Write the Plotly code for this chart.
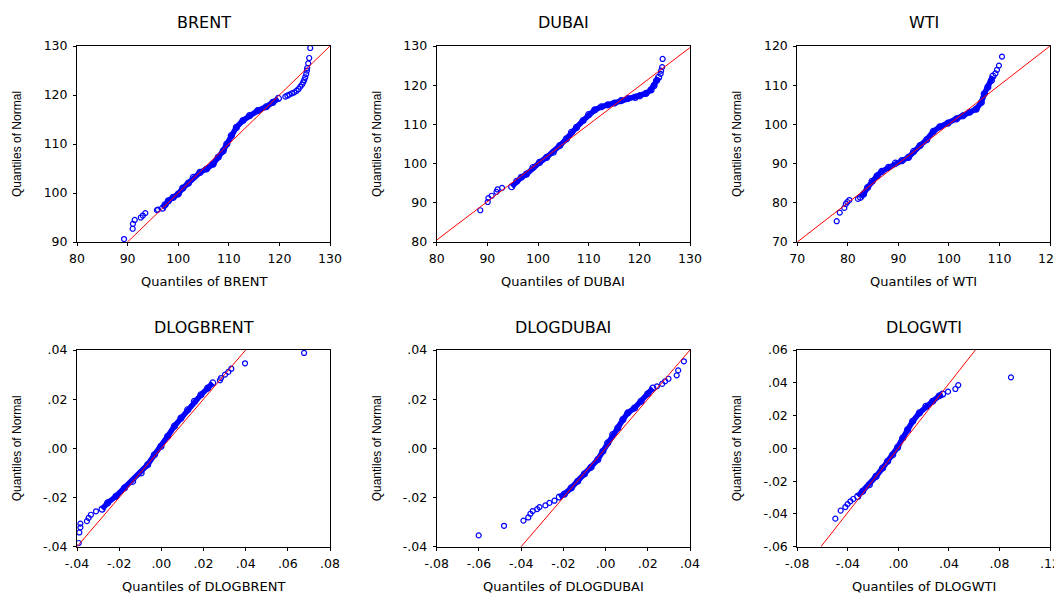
import plotly.graph_objects as go

# ---------------- data ----------------
titles = ["BRENT", "DUBAI", "WTI", "DLOGBRENT", "DLOGDUBAI", "DLOGWTI"]
x_titles = ["Quantiles of BRENT", "Quantiles of DUBAI", "Quantiles of WTI",
            "Quantiles of DLOGBRENT", "Quantiles of DLOGDUBAI", "Quantiles of DLOGWTI"]
y_title = "Quantiles of Normal"

# BRENT
brent_band_x = [96.9, 97.4, 98.05, 99.0, 100.0, 100.9, 102.0, 103.0, 104.3, 105.6, 106.9,
                107.9, 108.9, 109.6, 110.5, 111.5, 112.8, 114.1, 115.7, 117.4, 118.7, 119.8]
brent_band_y = [96.9, 97.6, 98.4, 99.1, 99.8, 101.0, 102.0, 103.2, 104.2, 104.9, 105.9,
                107.3, 108.6, 110.0, 111.7, 113.4, 114.8, 115.8, 116.8, 117.6, 118.5, 119.3]
brent_tail_x = [89.3, 91.0, 91.05, 91.4, 92.6, 93.0, 93.5, 95.8, 96.0,
                121.17, 121.57, 121.96, 122.48, 122.94, 123.40, 123.79, 124.12, 124.45, 124.71,
                124.91, 125.10, 125.30, 125.43, 125.49, 125.69, 125.89, 126.09]
brent_tail_y = [90.6, 92.7, 93.7, 94.5, 95.0, 95.4, 95.9, 96.5, 96.6,
                119.66, 119.86, 120.07, 120.34, 120.54, 120.88, 121.22, 121.70, 122.11, 122.59,
                123.06, 123.61, 124.29, 124.97, 125.51, 126.46, 127.55, 129.59]
brent_ref_x = [80, 130]
brent_ref_y = [80, 130]

# DUBAI
dubai_band_x = [94.8, 95.8, 96.7, 97.7, 99.0, 100.3, 101.7, 103.0, 104.3, 105.6, 106.6, 107.6,
                108.9, 110.0, 111.2, 112.5, 113.8, 115.1, 116.4, 117.7, 119.2, 120.1, 121.3,
                122.3, 122.9, 123.4, 123.8]
dubai_band_y = [94.1, 95.5, 96.5, 97.3, 99.0, 100.3, 101.6, 102.9, 104.6, 106.3, 108.0, 109.25,
                111.0, 112.5, 113.7, 114.5, 115.0, 115.45, 116.05, 116.6, 116.9, 117.3, 117.9,
                118.8, 119.9, 121.2, 122.0]
dubai_tail_x = [88.6, 90.07, 90.2, 90.85, 91.8, 92.0, 92.9, 124.2, 124.3, 124.5, 124.6]
dubai_tail_y = [88.1, 90.2, 91.2, 91.8, 92.8, 93.4, 93.8, 122.9, 123.7, 124.6, 126.7]
dubai_ref_x = [80, 130]
dubai_ref_y = [80.5, 129.6]

# WTI
wti_band_x = [82.5, 83.1, 83.9, 84.8, 85.8, 86.7, 88.05, 89.4, 90.7, 92.0, 93.0, 94.3, 95.6,
              96.9, 98.2, 99.8, 101.5, 102.8, 104.1, 105.4, 106.4, 107.0, 107.7, 108.4, 108.7]
wti_band_y = [81.4, 82.2, 83.9, 85.5, 86.9, 88.0, 89.05, 90.1, 90.75, 91.6, 93.1, 94.6, 96.1,
              98.2, 99.4, 100.3, 101.4, 102.2, 103.1, 103.9, 105.6, 107.8, 109.5, 111.2, 112.3]
wti_tail_x = [77.8, 78.4, 79.3, 79.6, 79.9, 80.3, 82.0, 109.2, 109.5, 109.9, 110.5]
wti_tail_y = [75.3, 77.5, 78.7, 79.7, 80.2, 80.7, 81.0, 113.0, 113.9, 115.0, 117.3]
wti_ref_x = [70, 120]
wti_ref_y = [70, 120]

# DLOGBRENT
dlogbrent_band_x = [-0.0281, -0.0255, -0.0215, -0.0175, -0.0136, -0.0096, -0.0065, -0.0033,
                    -0.0002, 0.0030, 0.0062, 0.0093, 0.0125, 0.0157, 0.0188, 0.0220, 0.0244]
dlogbrent_band_y = [-0.0247, -0.0222, -0.0195, -0.0161, -0.0134, -0.0100, -0.0067, -0.0026,
                    0.0008, 0.0049, 0.0090, 0.0123, 0.0157, 0.0191, 0.0218, 0.0245, 0.0266]
dlogbrent_tail_x = [-0.0392, -0.0389, -0.0384, -0.0384, -0.0353, -0.0345, -0.0334, -0.0310,
                    0.0278, 0.0283, 0.0302, 0.0318, 0.0332, 0.0397, 0.0677]
dlogbrent_tail_y = [-0.0385, -0.0342, -0.0321, -0.0306, -0.0296, -0.0283, -0.0270, -0.0256,
                    0.0277, 0.0286, 0.0300, 0.0311, 0.0324, 0.0346, 0.0388]
dlogbrent_ref_x = [-0.05, 0.05]
dlogbrent_ref_y = [-0.05, 0.05]

# DLOGDUBAI
dlogdubai_band_x = [-0.0219, -0.0195, -0.0163, -0.0132, -0.0100, -0.0069, -0.0037, -0.0013,
                    0.0010, 0.0034, 0.0058, 0.0082, 0.0105, 0.0137, 0.0168, 0.0200, 0.0224]
dlogdubai_band_y = [-0.0198, -0.0186, -0.0161, -0.0134, -0.0104, -0.0077, -0.0046, -0.0012,
                    0.0022, 0.0056, 0.0083, 0.0117, 0.0144, 0.0164, 0.0191, 0.0222, 0.0245]
dlogdubai_tail_x = [-0.0601, -0.0481, -0.0389, -0.0366, -0.0356, -0.0345, -0.0324, -0.0313,
                    -0.0285, -0.0266, -0.0242, 0.0243, 0.0268, 0.0282, 0.0298, 0.0337,
                    0.0344, 0.0371]
dlogdubai_tail_y = [-0.0354, -0.0315, -0.0294, -0.0281, -0.0266, -0.0255, -0.0247, -0.0239,
                    -0.0232, -0.0222, -0.0213, 0.0252, 0.0262, 0.0273, 0.0283, 0.0297,
                    0.0317, 0.0354]
dlogdubai_ref_x = [-0.05, 0.05]
dlogdubai_ref_y = [-0.05, 0.05]

# DLOGWTI
dlogwti_band_x = [-0.0322, -0.0283, -0.0230, -0.0177, -0.0125, -0.0085, -0.0045, -0.0006,
                  0.0034, 0.0073, 0.0113, 0.0166, 0.0218, 0.0271, 0.0324, 0.0350]
dlogwti_band_y = [-0.0293, -0.0262, -0.0222, -0.0171, -0.0120, -0.0079, -0.0039, 0.0006,
                  0.0063, 0.0114, 0.0165, 0.0216, 0.0256, 0.0287, 0.0321, 0.0331]
dlogwti_tail_x = [-0.0499, -0.0457, -0.0420, -0.0402, -0.0380, -0.0357,
                  0.0393, 0.0451, 0.0474, 0.0891]
dlogwti_tail_y = [-0.0429, -0.0380, -0.0358, -0.0340, -0.0323, -0.0309,
                  0.0346, 0.0362, 0.0386, 0.0433]
dlogwti_ref_x = [-0.0613, 0.0609]
dlogwti_ref_y = [-0.06, 0.06]

# axis ticks
level_ticks_brent_x = [80, 90, 100, 110, 120, 130]
level_ticks_brent_y = [90, 100, 110, 120, 130]
level_ticks_dubai_x = [80, 90, 100, 110, 120, 130]
level_ticks_dubai_y = [80, 90, 100, 110, 120, 130]
level_ticks_wti_x = [70, 80, 90, 100, 110, 120]
level_ticks_wti_y = [70, 80, 90, 100, 110, 120]
dlogbrent_ticks_x = [-0.04, -0.02, 0.0, 0.02, 0.04, 0.06, 0.08]
dlogbrent_ticktext_x = ["-.04", "-.02", ".00", ".02", ".04", ".06", ".08"]
dlogbrent_ticks_y = [-0.04, -0.02, 0.0, 0.02, 0.04]
dlogbrent_ticktext_y = ["-.04", "-.02", ".00", ".02", ".04"]
dlogdubai_ticks_x = [-0.08, -0.06, -0.04, -0.02, 0.0, 0.02, 0.04]
dlogdubai_ticktext_x = ["-.08", "-.06", "-.04", "-.02", ".00", ".02", ".04"]
dlogdubai_ticks_y = [-0.04, -0.02, 0.0, 0.02, 0.04]
dlogdubai_ticktext_y = ["-.04", "-.02", ".00", ".02", ".04"]
dlogwti_ticks_x = [-0.08, -0.04, 0.0, 0.04, 0.08, 0.12]
dlogwti_ticktext_x = ["-.08", "-.04", ".00", ".04", ".08", ".12"]
dlogwti_ticks_y = [-0.06, -0.04, -0.02, 0.0, 0.02, 0.04, 0.06]
dlogwti_ticktext_y = ["-.06", "-.04", "-.02", ".00", ".02", ".04", ".06"]

panels = [
    dict(bx=brent_band_x, by=brent_band_y, tx=brent_tail_x, ty=brent_tail_y,
         rx=brent_ref_x, ry=brent_ref_y, xr=[80, 130], yr=[90, 130],
         xtv=level_ticks_brent_x, xtt=[str(v) for v in level_ticks_brent_x],
         ytv=level_ticks_brent_y, ytt=[str(v) for v in level_ticks_brent_y]),
    dict(bx=dubai_band_x, by=dubai_band_y, tx=dubai_tail_x, ty=dubai_tail_y,
         rx=dubai_ref_x, ry=dubai_ref_y, xr=[80, 130], yr=[80, 130],
         xtv=level_ticks_dubai_x, xtt=[str(v) for v in level_ticks_dubai_x],
         ytv=level_ticks_dubai_y, ytt=[str(v) for v in level_ticks_dubai_y]),
    dict(bx=wti_band_x, by=wti_band_y, tx=wti_tail_x, ty=wti_tail_y,
         rx=wti_ref_x, ry=wti_ref_y, xr=[70, 120], yr=[70, 120],
         xtv=level_ticks_wti_x, xtt=[str(v) for v in level_ticks_wti_x],
         ytv=level_ticks_wti_y, ytt=[str(v) for v in level_ticks_wti_y]),
    dict(bx=dlogbrent_band_x, by=dlogbrent_band_y, tx=dlogbrent_tail_x, ty=dlogbrent_tail_y,
         rx=dlogbrent_ref_x, ry=dlogbrent_ref_y, xr=[-0.04, 0.08], yr=[-0.04, 0.04],
         xtv=dlogbrent_ticks_x, xtt=dlogbrent_ticktext_x,
         ytv=dlogbrent_ticks_y, ytt=dlogbrent_ticktext_y),
    dict(bx=dlogdubai_band_x, by=dlogdubai_band_y, tx=dlogdubai_tail_x, ty=dlogdubai_tail_y,
         rx=dlogdubai_ref_x, ry=dlogdubai_ref_y, xr=[-0.08, 0.04], yr=[-0.04, 0.04],
         xtv=dlogdubai_ticks_x, xtt=dlogdubai_ticktext_x,
         ytv=dlogdubai_ticks_y, ytt=dlogdubai_ticktext_y),
    dict(bx=dlogwti_band_x, by=dlogwti_band_y, tx=dlogwti_tail_x, ty=dlogwti_tail_y,
         rx=dlogwti_ref_x, ry=dlogwti_ref_y, xr=[-0.08, 0.12], yr=[-0.06, 0.06],
         xtv=dlogwti_ticks_x, xtt=dlogwti_ticktext_x,
         ytv=dlogwti_ticks_y, ytt=dlogwti_ticktext_y),
]

# ---------------- layout geometry (window pixels) ----------------
WIN_W, WIN_H = 1062, 595
OFF = 8  # default page margin around the plot div
W, H = WIN_W - OFF, WIN_H - OFF
col_px = [(77, 330), (436.7, 690), (797.3, 1050)]
row_px = [(46, 242), (350, 546.7)]
title_y_px = [22, 327]
xtitle_y_px = [282, 586]
ytitle_x_px = [17, 377, 737]


def fx(px):
    return (px - OFF) / W


def fy(py):
    return 1 - (py - OFF) / H


BLUE = "#0000FF"
RED = "#FF0000"
TICK_FONT = dict(family="DejaVu Sans", size=12.5, color="#000000")

fig = go.Figure()
annotations = []
layout_axes = {}

for i, p in enumerate(panels):
    r, c = divmod(i, 3)
    n = i + 1
    xa = "x" if n == 1 else f"x{n}"
    ya = "y" if n == 1 else f"y{n}"
    x0, x1 = col_px[c]
    y0, y1 = row_px[r]

    # dense band: connecting line beneath the open circles
    fig.add_trace(go.Scatter(x=p["bx"], y=p["by"], mode="lines",
                             line=dict(color=BLUE, width=5.5), xaxis=xa, yaxis=ya,
                             showlegend=False, hoverinfo="skip"))
    fig.add_trace(go.Scatter(x=p["bx"], y=p["by"], mode="markers",
                             marker=dict(symbol="circle-open", size=6, color=BLUE,
                                         line=dict(width=1.2, color=BLUE)),
                             xaxis=xa, yaxis=ya, showlegend=False))
    fig.add_trace(go.Scatter(x=p["tx"], y=p["ty"], mode="markers",
                             marker=dict(symbol="circle-open", size=5, color=BLUE,
                                         line=dict(width=1.2, color=BLUE)),
                             xaxis=xa, yaxis=ya, showlegend=False))
    fig.add_trace(go.Scatter(x=p["rx"], y=p["ry"], mode="lines",
                             line=dict(color=RED, width=1), xaxis=xa, yaxis=ya,
                             showlegend=False, hoverinfo="skip"))

    common = dict(showgrid=False, zeroline=False, showline=True, linecolor="#000000",
                  linewidth=1, mirror=True, ticks="outside", ticklen=3, tickwidth=1,
                  tickcolor="#000000", tickfont=TICK_FONT, fixedrange=True,
                  automargin=False)
    layout_axes["xaxis" if n == 1 else f"xaxis{n}"] = dict(
        common, domain=[fx(x0), fx(x1)], range=p["xr"], tickmode="array",
        tickvals=p["xtv"], ticktext=p["xtt"], anchor=ya, ticklabelstandoff=2)
    layout_axes["yaxis" if n == 1 else f"yaxis{n}"] = dict(
        common, domain=[fy(y1), fy(y0)], range=p["yr"], tickmode="array",
        tickvals=p["ytv"], ticktext=p["ytt"], anchor=xa, ticklabelstandoff=3)

    cx = (x0 + x1) / 2
    annotations.append(dict(text=titles[i], x=fx(cx), y=fy(title_y_px[r]),
                            xref="paper", yref="paper", showarrow=False,
                            xanchor="center", yanchor="middle",
                            font=dict(family="DejaVu Sans", size=16, color="#000000")))
    annotations.append(dict(text=x_titles[i], x=fx(cx), y=fy(xtitle_y_px[r]),
                            xref="paper", yref="paper", showarrow=False,
                            xanchor="center", yanchor="middle",
                            font=dict(family="DejaVu Sans", size=13, color="#000000")))
    annotations.append(dict(text=y_title, x=fx(ytitle_x_px[c]),
                            y=fy((y0 + y1) / 2),
                            xref="paper", yref="paper", showarrow=False, textangle=-90,
                            xanchor="center", yanchor="middle",
                            font=dict(family="Liberation Sans", size=12, color="#000000")))

fig.update_layout(width=W, height=H, margin=dict(l=0, r=0, t=0, b=0, pad=0),
                  paper_bgcolor="white", plot_bgcolor="white",
                  annotations=annotations, showlegend=False, **layout_axes)

fig.write_html("out.html")
